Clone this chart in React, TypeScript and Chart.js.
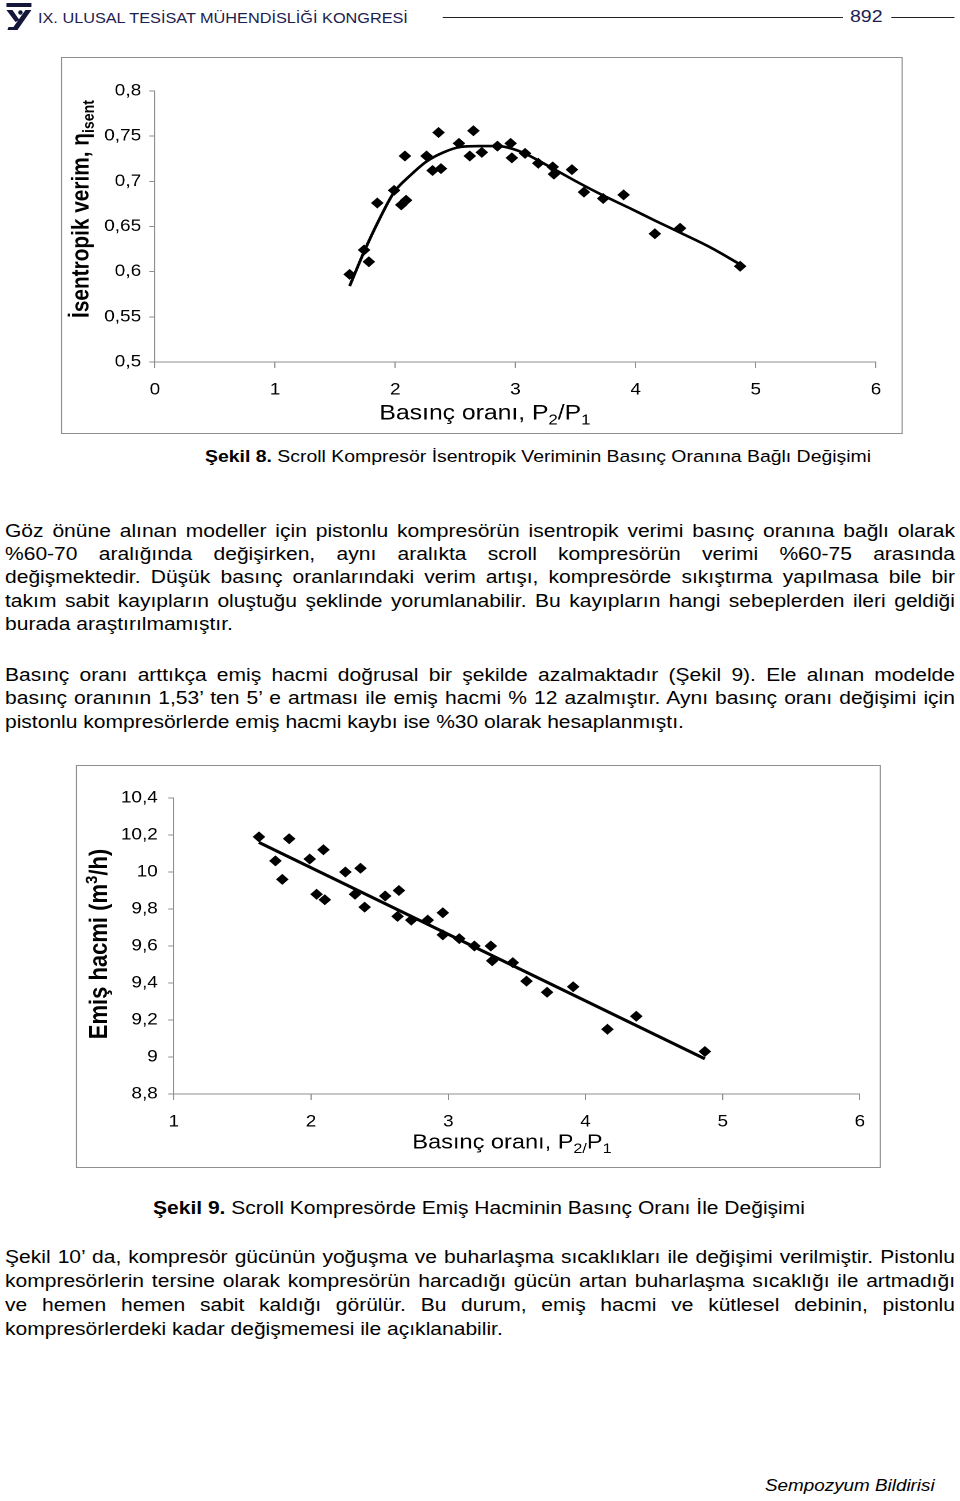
import React, { useEffect, useRef } from "react";
import { Chart, registerables } from "chart.js";

Chart.register(...registerables);

// ---------- Figure 8: isentropic efficiency vs pressure ratio ----------
const pressureRatio8 = [1.62, 1.74, 1.78, 1.85, 1.99, 2.05, 2.09, 2.08, 2.26, 2.31, 2.38, 2.36, 2.53, 2.62, 2.65, 2.72, 2.85, 2.96, 2.97, 3.08, 3.19, 3.31, 3.32, 3.47, 3.57, 3.73, 3.9, 4.16, 4.37, 4.87];
const isentropicEff = [0.597, 0.624, 0.611, 0.676, 0.69, 0.674, 0.679, 0.728, 0.728, 0.712, 0.714, 0.754, 0.742, 0.728, 0.756, 0.732, 0.739, 0.742, 0.726, 0.731, 0.72, 0.716, 0.708, 0.713, 0.688, 0.681, 0.685, 0.642, 0.648, 0.606];
const fitRatio8 = [1.62, 1.74, 1.86, 1.99, 2.12, 2.26, 2.4, 2.54, 2.7, 2.85, 3.04, 3.26, 3.49, 3.72, 3.94, 4.17, 4.39, 4.62, 4.87];
const fitEff = [0.584, 0.622, 0.656, 0.688, 0.706, 0.722, 0.732, 0.738, 0.739, 0.739, 0.733, 0.718, 0.701, 0.685, 0.671, 0.656, 0.642, 0.627, 0.608];
const xTicks8 = ["0", "1", "2", "3", "4", "5", "6"];
const yTicks8 = ["0,5", "0,55", "0,6", "0,65", "0,7", "0,75", "0,8"];

// ---------- Figure 9: suction volume vs pressure ratio ----------
const pressureRatio9 = [1.62, 1.74, 1.79, 1.84, 1.99, 2.09, 2.04, 2.1, 2.25, 2.36, 2.32, 2.39, 2.54, 2.64, 2.63, 2.73, 2.85, 2.96, 2.96, 3.08, 3.19, 3.31, 3.32, 3.47, 3.57, 3.72, 3.91, 4.16, 4.37, 4.87];
const suctionVolume = [10.19, 10.06, 9.96, 10.18, 10.07, 10.12, 9.88, 9.85, 10.0, 10.02, 9.88, 9.81, 9.87, 9.9, 9.76, 9.74, 9.74, 9.78, 9.66, 9.64, 9.6, 9.6, 9.52, 9.51, 9.41, 9.35, 9.38, 9.15, 9.22, 9.03];
const fitRatio9 = [1.62, 4.87];
const fitVolume = [10.16, 8.99];
const xTicks9 = ["1", "2", "3", "4", "5", "6"];
const yTicks9 = ["8,8", "9", "9,2", "9,4", "9,6", "9,8", "10", "10,2", "10,4"];

// ---------- page text ----------
const para1 = [
  "Göz önüne alınan modeller için pistonlu kompresörün isentropik verimi basınç oranına bağlı olarak",
  "%60-70 aralığında değişirken, aynı aralıkta scroll kompresörün verimi %60-75 arasında",
  "değişmektedir. Düşük basınç oranlarındaki verim artışı, kompresörde sıkıştırma yapılmasa bile bir",
  "takım sabit kayıpların oluştuğu şeklinde yorumlanabilir. Bu kayıpların hangi sebeplerden ileri geldiği",
  "burada araştırılmamıştır.",
];
const para2 = [
  "Basınç oranı arttıkça emiş hacmi doğrusal bir şekilde azalmaktadır (Şekil 9). Ele alınan modelde",
  "basınç oranının 1,53’ ten 5’ e artması ile emiş hacmi % 12 azalmıştır. Aynı basınç oranı değişimi için",
  "pistonlu kompresörlerde emiş hacmi kaybı ise %30 olarak hesaplanmıştı.",
];
const para3 = [
  "Şekil 10’ da, kompresör gücünün yoğuşma ve buharlaşma sıcaklıkları ile değişimi verilmiştir.  Pistonlu",
  "kompresörlerin tersine olarak kompresörün harcadığı gücün artan buharlaşma sıcaklığı ile artmadığı",
  "ve hemen hemen sabit kaldığı görülür. Bu durum, emiş hacmi ve kütlesel debinin, pistonlu",
  "kompresörlerdeki kadar değişmemesi ile açıklanabilir.",
];
const para1Baselines = [537, 560, 583, 606.5, 630];
const para2Baselines = [680.5, 704, 727.5];
const para3Baselines = [1262.5, 1286.5, 1310.5, 1334.5];

const S = 1.15; // the scanned page is stretched horizontally
const FAMILY = '"Liberation Sans", Arial, Helvetica, sans-serif';
const P = (x: number) => x / S;
const AXIS = "#8f8f8f";

type Seg = { t: string; m?: "sub" | "sup" };
type RichTitle = { segs: Seg[]; x: number; y: number; size: number; bold?: boolean; rotate?: boolean };

function richTitles(titles: RichTitle[]) {
  return {
    id: "richTitles",
    afterDraw(chart: any) {
      const ctx: CanvasRenderingContext2D = chart.ctx;
      titles.forEach((tt) => {
        ctx.save();
        ctx.translate(tt.x, tt.y);
        if (tt.rotate) ctx.rotate(-Math.PI / 2);
        const font = (s: Seg) => `${tt.bold ? "bold " : ""}${s.m ? tt.size * 0.68 : tt.size}px ${FAMILY}`;
        const widths = tt.segs.map((s) => {
          ctx.font = font(s);
          return ctx.measureText(s.t).width;
        });
        const total = widths.reduce((a, b) => a + b, 0);
        let cx = -total / 2;
        const base = tt.size * 0.36;
        ctx.fillStyle = "#000";
        ctx.textBaseline = "alphabetic";
        ctx.textAlign = "left";
        tt.segs.forEach((s, i) => {
          ctx.font = font(s);
          const dy = s.m === "sub" ? tt.size * 0.22 : s.m === "sup" ? -tt.size * 0.38 : 0;
          ctx.fillText(s.t, cx, base + dy);
          cx += widths[i];
        });
        ctx.restore();
      });
    },
  };
}

type Geom = { cw: number; ch: number; cx: (x: number) => number; cy: (y: number) => number };
type Box = { l: number; t: number; r: number; b: number };

function ChartPanel({ box, build }: { box: Box; build: (g: Geom) => any }) {
  const ref = useRef<HTMLCanvasElement>(null);
  const left = P(box.l);
  const width = P(box.r - box.l);
  const height = box.b - box.t;
  const cw = Math.round(width - 2);
  const ch = Math.round(height - 2);
  useEffect(() => {
    const ox = left + 1;
    const oy = box.t + 1;
    const g: Geom = { cw, ch, cx: (x) => P(x) - ox, cy: (y) => y - oy };
    const chart = new Chart(ref.current as HTMLCanvasElement, build(g));
    return () => chart.destroy();
  }, []);
  return (
    <div
      style={{
        position: "absolute",
        left,
        top: box.t,
        width,
        height,
        border: `1px solid ${AXIS}`,
        boxSizing: "border-box",
      }}
    >
      <canvas ref={ref} width={cw} height={ch} style={{ position: "absolute", left: 0, top: 0 }} />
    </div>
  );
}

function axisCommon(tickLength: number) {
  return {
    grid: { drawOnChartArea: false, tickLength, color: AXIS, tickColor: AXIS, lineWidth: 1 },
    border: { color: AXIS, width: 1 },
  };
}

const build8 = (g: Geom) => {
  const areaL = g.cx(155);
  const areaR = g.cx(876);
  const areaT = g.cy(91);
  const areaB = g.cy(362);
  return {
    type: "scatter",
    data: {
      datasets: [
        {
          label: "fit",
          data: fitRatio8.map((x, i) => ({ x, y: fitEff[i] })),
          showLine: true,
          borderColor: "#000",
          borderWidth: 2.6,
          pointRadius: 0,
          cubicInterpolationMode: "monotone",
          fill: false,
        },
        {
          label: "data",
          data: pressureRatio8.map((x, i) => ({ x, y: isentropicEff[i] })),
          showLine: false,
          pointStyle: "rectRot",
          pointRadius: 5.5,
          backgroundColor: "#000",
          borderColor: "#000",
          borderWidth: 0,
        },
      ],
    },
    options: {
      responsive: false,
      animation: false,
      devicePixelRatio: 2,
      layout: { padding: { left: 0, top: areaT, right: g.cw - areaR, bottom: 0 } },
      plugins: { legend: { display: false }, tooltip: { enabled: false } },
      scales: {
        x: {
          type: "linear",
          min: 0,
          max: 6,
          ticks: {
            stepSize: 1,
            color: "#000",
            font: { family: FAMILY, size: 16.5 },
            padding: 12,
            maxRotation: 0,
            callback: (_v: any, i: number) => xTicks8[i],
          },
          ...axisCommon(6),
          afterFit: (s: any) => {
            s.height = g.ch - areaB;
          },
        },
        y: {
          type: "linear",
          min: 0.5,
          max: 0.8,
          ticks: {
            stepSize: 0.05,
            color: "#000",
            font: { family: FAMILY, size: 16.5 },
            padding: 7,
            callback: (_v: any, i: number) => yTicks8[i],
          },
          ...axisCommon(5),
          afterFit: (s: any) => {
            s.width = areaL;
          },
        },
      },
    },
    plugins: [
      richTitles([
        {
          segs: [{ t: "Basınç oranı, P" }, { t: "2", m: "sub" }, { t: "/P" }, { t: "1", m: "sub" }],
          x: g.cx(485),
          y: g.cy(412),
          size: 21.5,
        },
        {
          segs: [{ t: "İsentropik verim, η" }, { t: "isent", m: "sub" }],
          x: g.cx(80),
          y: g.cy(209),
          size: 20.8,
          bold: true,
          rotate: true,
        },
      ]),
    ],
  };
};

const build9 = (g: Geom) => {
  const areaL = g.cx(174);
  const areaR = g.cx(860);
  const areaT = g.cy(798);
  const areaB = g.cy(1094);
  return {
    type: "scatter",
    data: {
      datasets: [
        {
          label: "fit",
          data: fitRatio9.map((x, i) => ({ x, y: fitVolume[i] })),
          showLine: true,
          borderColor: "#000",
          borderWidth: 3,
          pointRadius: 0,
          fill: false,
        },
        {
          label: "data",
          data: pressureRatio9.map((x, i) => ({ x, y: suctionVolume[i] })),
          showLine: false,
          pointStyle: "rectRot",
          pointRadius: 5.5,
          backgroundColor: "#000",
          borderColor: "#000",
          borderWidth: 0,
        },
      ],
    },
    options: {
      responsive: false,
      animation: false,
      devicePixelRatio: 2,
      layout: { padding: { left: 0, top: areaT, right: g.cw - areaR, bottom: 0 } },
      plugins: { legend: { display: false }, tooltip: { enabled: false } },
      scales: {
        x: {
          type: "linear",
          min: 1,
          max: 6,
          ticks: {
            stepSize: 1,
            color: "#000",
            font: { family: FAMILY, size: 16.5 },
            padding: 12,
            maxRotation: 0,
            callback: (_v: any, i: number) => xTicks9[i],
          },
          ...axisCommon(6),
          afterFit: (s: any) => {
            s.height = g.ch - areaB;
          },
        },
        y: {
          type: "linear",
          min: 8.8,
          max: 10.4,
          ticks: {
            stepSize: 0.2,
            color: "#000",
            font: { family: FAMILY, size: 16.5 },
            padding: 9,
            callback: (_v: any, i: number) => yTicks9[i],
          },
          ...axisCommon(5),
          afterFit: (s: any) => {
            s.width = areaL;
          },
        },
      },
    },
    plugins: [
      richTitles([
        {
          segs: [{ t: "Basınç oranı, P" }, { t: "2/", m: "sub" }, { t: "P" }, { t: "1", m: "sub" }],
          x: g.cx(512),
          y: g.cy(1141),
          size: 20.5,
        },
        {
          segs: [{ t: "Emiş hacmi (m" }, { t: "3", m: "sup" }, { t: "/h)" }],
          x: g.cx(98),
          y: g.cy(944),
          size: 22,
          bold: true,
          rotate: true,
        },
      ]),
    ],
  };
};

function TextLine({
  children,
  left,
  width,
  baseline,
  size,
  lh,
  justify,
  italic,
  color,
}: {
  children: React.ReactNode;
  left: number;
  width?: number;
  baseline: number;
  size: number;
  lh: number;
  justify?: boolean;
  italic?: boolean;
  color?: string;
}) {
  const top = baseline - ((lh - 1.117 * size) / 2 + 0.905 * size);
  return (
    <div
      style={{
        position: "absolute",
        left: P(left),
        top,
        width: width !== undefined ? P(width) : undefined,
        fontSize: size,
        lineHeight: `${lh}px`,
        fontFamily: FAMILY,
        textAlign: justify ? "justify" : "left",
        textAlignLast: justify ? "justify" : "auto",
        whiteSpace: justify ? "normal" : "pre",
        fontStyle: italic ? "italic" : "normal",
        color: color || "#000",
      }}
    >
      {children}
    </div>
  );
}

const BODY = 18.3;
const BODY_LH = 23.3;

export default function App() {
  return (
    <div
      style={{
        position: "absolute",
        left: 0,
        top: 0,
        width: 960 / S,
        height: 1500,
        transform: `scaleX(${S})`,
        transformOrigin: "0 0",
        background: "#fff",
        overflow: "hidden",
        fontFamily: FAMILY,
      }}
    >
      {/* header */}
      <svg
        style={{ position: "absolute", left: P(4), top: 2 }}
        width={P(30)}
        height={30}
        viewBox="0 0 30 30"
        preserveAspectRatio="none"
      >
        <rect x="3" y="1" width="25" height="4" fill="#15173a" />
        <polygon points="3,8 9,8 16,18 12,20" fill="#15173a" />
        <polygon points="22,8 28,8 14,28 4,28 5,25 10,25" fill="#15173a" />
        <circle cx="17" cy="10.5" r="2.2" fill="#15173a" />
      </svg>
      <TextLine left={38} baseline={22.5} size={14.15} lh={18} color="#1c2150">
        IX. ULUSAL TESİSAT MÜHENDİSLİĞİ KONGRESİ
      </TextLine>
      <div style={{ position: "absolute", left: P(443), top: 17, width: P(400), height: 1.2, background: "#222" }} />
      <TextLine left={850} baseline={23} size={17} lh={20} color="#1c2150">
        892
      </TextLine>
      <div style={{ position: "absolute", left: P(891), top: 17, width: P(64), height: 1.2, background: "#222" }} />

      {/* figure 8 */}
      <ChartPanel box={{ l: 61, t: 57, r: 903, b: 434 }} build={build8} />
      <TextLine left={205} baseline={462.5} size={16.9} lh={20}>
        <b>Şekil 8.</b> Scroll Kompresör İsentropik Veriminin Basınç Oranına Bağlı Değişimi
      </TextLine>

      {para1.map((t, i) => (
        <TextLine key={"p1" + i} left={5} width={950} baseline={para1Baselines[i]} size={BODY} lh={BODY_LH} justify={i < para1.length - 1}>
          {t}
        </TextLine>
      ))}
      {para2.map((t, i) => (
        <TextLine key={"p2" + i} left={5} width={950} baseline={para2Baselines[i]} size={BODY} lh={BODY_LH} justify={i < para2.length - 1}>
          {t}
        </TextLine>
      ))}

      {/* figure 9 */}
      <ChartPanel box={{ l: 76, t: 765, r: 881, b: 1168 }} build={build9} />
      <TextLine left={153} baseline={1214} size={18.3} lh={22}>
        <b>Şekil 9.</b> Scroll Kompresörde Emiş Hacminin Basınç Oranı İle Değişimi
      </TextLine>

      {para3.map((t, i) => (
        <TextLine key={"p3" + i} left={5} width={950} baseline={para3Baselines[i]} size={BODY} lh={BODY_LH} justify={i < para3.length - 1}>
          {t}
        </TextLine>
      ))}

      <TextLine left={765} baseline={1491} size={16.4} lh={20} italic>
        Sempozyum Bildirisi
      </TextLine>
    </div>
  );
}
